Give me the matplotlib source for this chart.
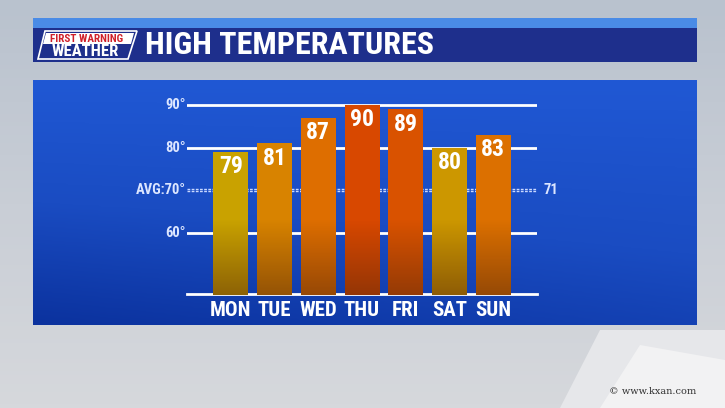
import numpy as np
import matplotlib
matplotlib.use("Agg")
import matplotlib.pyplot as plt
from matplotlib.patches import Polygon, Rectangle

# data read from the graphic
days = ["MON", "TUE", "WED", "THU", "FRI", "SAT", "SUN"]
highs = [79, 81, 87, 90, 89, 80, 83]
bar_colors = ["#C9A200", "#D88300", "#DE6E00", "#D84800", "#D95200", "#CC9700", "#DC7000"]
grid_temps = [60, 80, 90]
avg_line = 70
avg_high = 71

W, H = 725, 408
FONT = "Roboto Condensed"

fig = plt.figure(figsize=(W / 100, H / 100), dpi=100)

# background layer in pixel coords
bg = fig.add_axes([0, 0, 1, 1])
bg.set_xlim(0, W)
bg.set_ylim(H, 0)
bg.axis("off")

# grey sky background
sky = np.linspace(0, 1, 100)[:, None] * np.ones((1, 10))
bg.imshow(sky, extent=(0, W, H, 0), aspect="auto", cmap=matplotlib.colors.LinearSegmentedColormap.from_list(
    "sky", ["#B9C2CE", "#C9CED6", "#D6D8DC"]), zorder=0)
bg.add_patch(Polygon([[560, 408], [600, 330], [725, 330], [725, 408]], closed=True,
                     facecolor="#E6E7EA", edgecolor="none", zorder=1))
bg.add_patch(Polygon([[600, 408], [640, 345], [725, 360], [725, 408]], closed=True,
                     facecolor="#F2F2F3", edgecolor="none", zorder=1))

# header band
bg.add_patch(Rectangle((33, 18), 664, 11, facecolor="#4A8BE6", edgecolor="none", zorder=2))
bg.add_patch(Rectangle((33, 28), 664, 34, facecolor="#1E2F8C", edgecolor="none", zorder=2))
bg.text(145, 45.5, "HIGH TEMPERATURES", color="white", fontsize=23, fontweight="bold",
        family=FONT, va="center", ha="left", zorder=3)

# logo
bg.add_patch(Polygon([[45, 31], [137, 31], [128, 59], [38, 59]], closed=True,
                     facecolor="#1E2F8C", edgecolor="white", linewidth=1.2, zorder=3))
bg.add_patch(Polygon([[46, 33], [134, 33], [131, 44], [43, 44]], closed=True,
                     facecolor="white", edgecolor="none", zorder=3))
bg.text(87, 38.5, "FIRST WARNING", color="#D0202A", fontsize=8, fontweight="bold",
        family=FONT, ha="center", va="center", zorder=4)
bg.text(85, 52, "WEATHER", color="white", fontsize=12, fontweight="bold",
        family=FONT, ha="center", va="center", zorder=4)

# blue panel with gradient
panel = np.linspace(0, 1, 100)[:, None] * np.ones((1, 100))
panel = panel * 0.7 + np.linspace(0.3, 0, 100)[None, :] * panel
bg.imshow(panel, extent=(33, 697, 325, 80), aspect="auto", zorder=2,
          cmap=matplotlib.colors.LinearSegmentedColormap.from_list("pn", ["#2058D4", "#1A4CC2", "#0B329E"]))

bg.text(609, 391, "© www.kxan.com", color="#333333", fontsize=7, family="DejaVu Serif",
        ha="left", va="center", zorder=3)

# chart axes: x -1..7 maps to 187..537 px, y 45.5..92 maps to 295..96.5 px
ymin, ymax = 45.5, 92
px_per_deg = 128 / 30
top_px = 105 - (ymax - 90) * px_per_deg
ax = fig.add_axes([187 / W, (H - 295) / H, 350 / W, (295 - top_px) / H])
ax.set_xlim(-1, 7)
ax.set_ylim(ymin, ymax)
ax.patch.set_alpha(0)
ax.axis("off")

x = np.arange(len(days))

for t in grid_temps:
    ax.axhline(t, color="white", lw=2, zorder=1)
ax.axhline(ymin + 0.15, color="white", lw=2, zorder=1, clip_on=False)
for off in (-0.25, 0.25):
    ax.axhline(avg_line + off, color="#C9D8FF", lw=1, dashes=(2, 1), zorder=1)

bars = ax.bar(x, [h - ymin for h in highs], bottom=ymin, width=0.8, color=bar_colors, zorder=2)

# darken bottom part of each bar
shade = np.zeros((100, 1, 4))
shade[:, 0, 0] = 0.32
shade[:, 0, 1] = 0.14
shade[:, 0, 2] = 0.05
yy = np.linspace(ymax, ymin, 100)
shade[:, 0, 3] = np.clip((63 - yy) / (63 - ymin), 0, 1) * 0.5
for b in bars:
    im = ax.imshow(shade, extent=(-1, 7, ymin, ymax), aspect="auto", zorder=3, interpolation="bilinear")
    im.set_clip_path(b)

for xi, h in zip(x, highs):
    ax.text(xi, h - 0.8, str(h), color="white", fontsize=17, fontweight="bold",
            family=FONT, ha="center", va="top", zorder=4)

for xi, d in zip(x, days):
    ax.text(xi, ymin - 1.5, d, color="white", fontsize=15, fontweight="bold",
            family=FONT, ha="center", va="top", zorder=4, clip_on=False)

label_color = "#DCE6FF"
for t in [60, 80, 90]:
    ax.text(-1.03, t, f"{t}°", color=label_color, fontsize=10.5, fontweight="bold",
            family=FONT, ha="right", va="center", clip_on=False)
ax.text(-1.03, avg_line, f"AVG:{avg_line}°", color=label_color, fontsize=10.5, fontweight="bold",
        family=FONT, ha="right", va="center", clip_on=False)
ax.text(7.15, avg_line, str(avg_high), color=label_color, fontsize=10.5, fontweight="bold",
        family=FONT, ha="left", va="center", clip_on=False)

fig.savefig("out.png", dpi=100)
